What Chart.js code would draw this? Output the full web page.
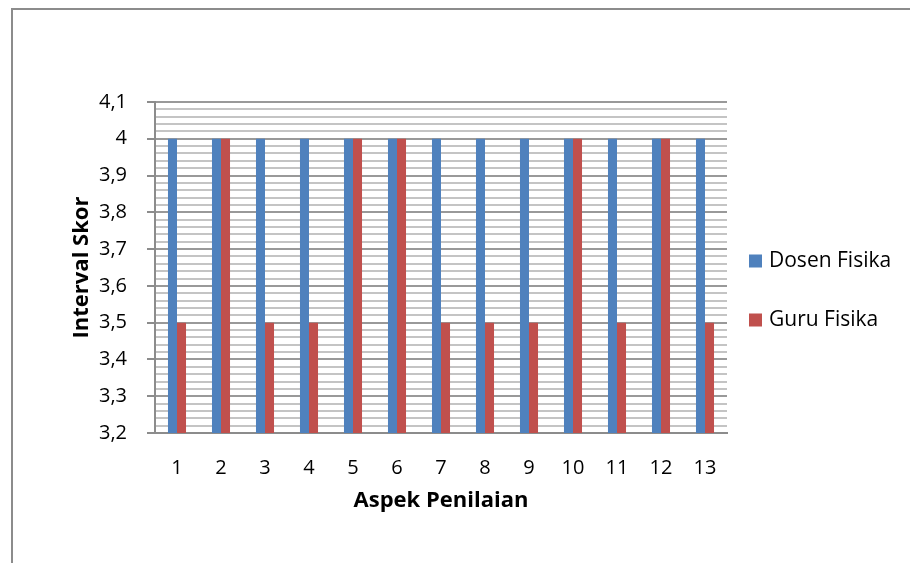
<!DOCTYPE html>
<html>
<head>
<meta charset="utf-8">
<title>Interval Skor per Aspek Penilaian</title>
<script src="https://cdn.jsdelivr.net/npm/chart.js@4.4.1/dist/chart.umd.min.js"></script>
<style>
    html, body { margin: 0; padding: 0; background: #fff; }
    #chart { display: block; }
</style>
</head>
<body>
<canvas id="chart" width="910" height="563"></canvas>
<script>
// Data
const aspek = ['1', '2', '3', '4', '5', '6', '7', '8', '9', '10', '11', '12', '13'];
const dosenFisika = [4, 4, 4, 4, 4, 4, 4, 4, 4, 4, 4, 4, 4];
const guruFisika = [3.5, 4, 3.5, 3.5, 4, 4, 3.5, 3.5, 3.5, 4, 3.5, 4, 3.5];
const yMin = 3.2;
const yMax = 4.1;
const yMajorStep = 0.1;
const yMinorStep = 0.02;

const FONT = "'Open Sans', 'DejaVu Sans', sans-serif";

function isMajor(v) {
    const r = v / yMajorStep;
    return Math.abs(r - Math.round(r)) < 1e-6;
}

function formatTick(v) {
    return String(Math.round(v * 10) / 10).replace('.', ',');
}

// Frame lines on the top and left edge
const framePlugin = {
    id: 'frame',
    beforeDraw(chart) {
        const ctx = chart.ctx;
        ctx.save();
        ctx.strokeStyle = '#8c8c8c';
        ctx.lineWidth = 2;
        ctx.beginPath();
        ctx.moveTo(chart.width, 9);
        ctx.lineTo(12, 9);
        ctx.lineTo(12, chart.height);
        ctx.stroke();
        ctx.restore();
    }
};

// Legend on the right, square swatch + label
const sideLegend = {
    id: 'sideLegend',
    afterDraw(chart) {
        const ctx = chart.ctx;
        const area = chart.chartArea;
        ctx.save();
        ctx.font = '21px ' + FONT;
        ctx.textBaseline = 'middle';
        ctx.textAlign = 'left';
        chart.data.datasets.forEach(function(ds, i) {
            const cy = area.top + 159 + i * 59;
            ctx.fillStyle = ds.backgroundColor;
            ctx.fillRect(area.right + 22, cy - 6.5, 13, 13);
            ctx.fillStyle = '#000';
            ctx.fillText(ds.label, area.right + 42, cy);
        });
        ctx.restore();
    }
};

new Chart(document.getElementById('chart'), {
    type: 'bar',
    data: {
        labels: aspek,
        datasets: [
            {
                label: 'Dosen Fisika',
                data: dosenFisika,
                backgroundColor: '#4f81bd'
            },
            {
                label: 'Guru Fisika',
                data: guruFisika,
                backgroundColor: '#c0504d'
            }
        ]
    },
    options: {
        responsive: false,
        animation: false,
        layout: {
            padding: { top: 102, right: 183, bottom: 0, left: 0 }
        },
        datasets: {
            bar: {
                barPercentage: 1,
                categoryPercentage: 0.41,
                borderWidth: 0
            }
        },
        plugins: {
            legend: { display: false },
            tooltip: { enabled: false }
        },
        scales: {
            x: {
                afterFit(scale) { scale.height = 130; },
                grid: { display: false, drawTicks: false },
                border: { color: '#8c8c8c', width: 2 },
                ticks: {
                    color: '#000',
                    padding: 23,
                    font: { family: FONT, size: 20 }
                },
                title: {
                    display: true,
                    text: 'Aspek Penilaian',
                    color: '#000',
                    padding: { top: 0, bottom: 49 },
                    font: { family: FONT, size: 22, weight: 'bold' }
                }
            },
            y: {
                min: yMin,
                max: yMax,
                afterFit(scale) { scale.width = 155; },
                grid: {
                    color: ctx => isMajor(ctx.tick.value) ? '#999999' : '#c4c4c4',
                    lineWidth: 2,
                    tickLength: 8,
                    tickWidth: 2,
                    tickColor: ctx => isMajor(ctx.tick.value) ? '#8c8c8c' : 'rgba(0,0,0,0)'
                },
                border: { color: '#8c8c8c', width: 2 },
                ticks: {
                    stepSize: yMinorStep,
                    autoSkip: false,
                    color: '#000',
                    padding: 20,
                    font: { family: FONT, size: 20 },
                    callback: v => isMajor(v) ? formatTick(v) : ''
                },
                title: {
                    display: true,
                    text: 'Interval Skor',
                    color: '#000',
                    padding: { top: 69, bottom: 0 },
                    font: { family: FONT, size: 22, weight: 'bold' }
                }
            }
        }
    },
    plugins: [framePlugin, sideLegend]
});
</script>
</body>
</html>
